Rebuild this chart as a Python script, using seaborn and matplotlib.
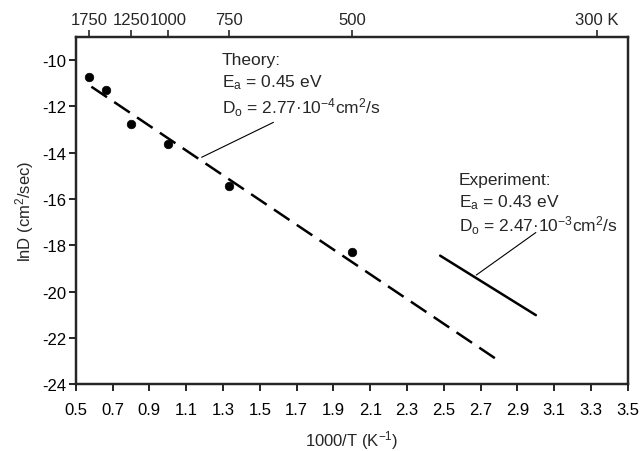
import matplotlib
matplotlib.use("Agg")
import matplotlib.pyplot as plt
import seaborn as sns
import pandas as pd

# Data
inv_T = [0.571, 0.667, 0.800, 1.000, 1.333, 2.000]
lnD = [-10.72, -11.29, -12.75, -13.63, -15.43, -18.31]

theory_x = [0.585, 2.80]
theory_y = [-11.15, -23.00]

exp_x = [2.48, 3.00]
exp_y = [-18.45, -21.02]

x_ticks = [0.5, 0.7, 0.9, 1.1, 1.3, 1.5, 1.7, 1.9, 2.1, 2.3, 2.5, 2.7, 2.9, 3.1, 3.3, 3.5]
y_ticks = [-24, -22, -20, -18, -16, -14, -12, -10]
top_T = [1750, 1250, 1000, 750, 500, 300]
top_labels = ["1750", "1250", "1000", "750", "500", "300 K"]

sns.set_style("ticks")
plt.rcParams["font.family"] = ["Liberation Sans", "DejaVu Sans"]
plt.rcParams["mathtext.fontset"] = "custom"
plt.rcParams["mathtext.rm"] = "Liberation Sans"
plt.rcParams["mathtext.it"] = "Liberation Sans"
plt.rcParams["mathtext.default"] = "regular"

fig = plt.figure(figsize=(6.42, 4.52), dpi=100)
ax = fig.add_axes([0.118, 0.148, 0.860, 0.768])

pts = pd.DataFrame({"x": inv_T, "y": lnD})
th = pd.DataFrame({"x": theory_x, "y": theory_y})
ex = pd.DataFrame({"x": exp_x, "y": exp_y})

sns.lineplot(data=th, x="x", y="y", ax=ax, color="black", lw=1.8,
             dashes=False, linestyle=(0, (7.5, 3.5)))
sns.lineplot(data=ex, x="x", y="y", ax=ax, color="black", lw=1.8)
sns.scatterplot(data=pts, x="x", y="y", ax=ax, color="black", s=38,
                edgecolor="black", zorder=5)

tfs = 12
ax.set_xlim(0.5, 3.5)
ax.set_ylim(-24, -9)
ax.set_xticks(x_ticks)
ax.set_xticklabels([f"{v:.1f}" for v in x_ticks])
ax.set_yticks(y_ticks)
ax.set_yticklabels([str(v) for v in y_ticks])
ax.tick_params(axis="both", labelsize=tfs, width=1.2, length=5,
               direction="out", colors="black")
ax.tick_params(axis="x", pad=8)
ax.tick_params(axis="y", pad=2)
for sp in ax.spines.values():
    sp.set_visible(True)
    sp.set_linewidth(1.6)
    sp.set_color("black")

ax.set_xlabel("1000/T (K$^{-1}$)", fontsize=12, labelpad=8)
ax.set_ylabel("lnD (cm$^{2}$/sec)", fontsize=12, labelpad=4)

top = ax.twiny()
top.set_xlim(ax.get_xlim())
top.set_xticks([1000.0 / t for t in top_T])
top.set_xticklabels(top_labels)
top.tick_params(axis="x", labelsize=tfs, width=1.2, length=5, direction="out", pad=2)
for sp in top.spines.values():
    sp.set_linewidth(1.6)

# Annotations
fs = 12.5
ax.text(1.295, -9.99, "Theory:", fontsize=fs, va="center", ha="left")
ax.text(1.295, -10.95, "E$_{a}$ = 0.45 eV", fontsize=fs, va="center", ha="left")
ax.text(1.295, -12.03, "D$_{o}$ = 2.77·10$^{-4}$cm$^{2}$/s", fontsize=fs, va="center", ha="left")
ax.plot([1.184, 1.574], [-14.2, -12.69], color="black", lw=0.8)

ax.text(2.58, -15.14, "Experiment:", fontsize=fs, va="center", ha="left")
ax.text(2.58, -16.13, "E$_{a}$ = 0.43 eV", fontsize=fs, va="center", ha="left")
ax.text(2.58, -17.13, "D$_{o}$ = 2.47·10$^{-3}$cm$^{2}$/s", fontsize=fs, va="center", ha="left")
ax.plot([2.676, 3.0], [-19.29, -17.45], color="black", lw=0.8)

fig.savefig("out.png", dpi=100)
